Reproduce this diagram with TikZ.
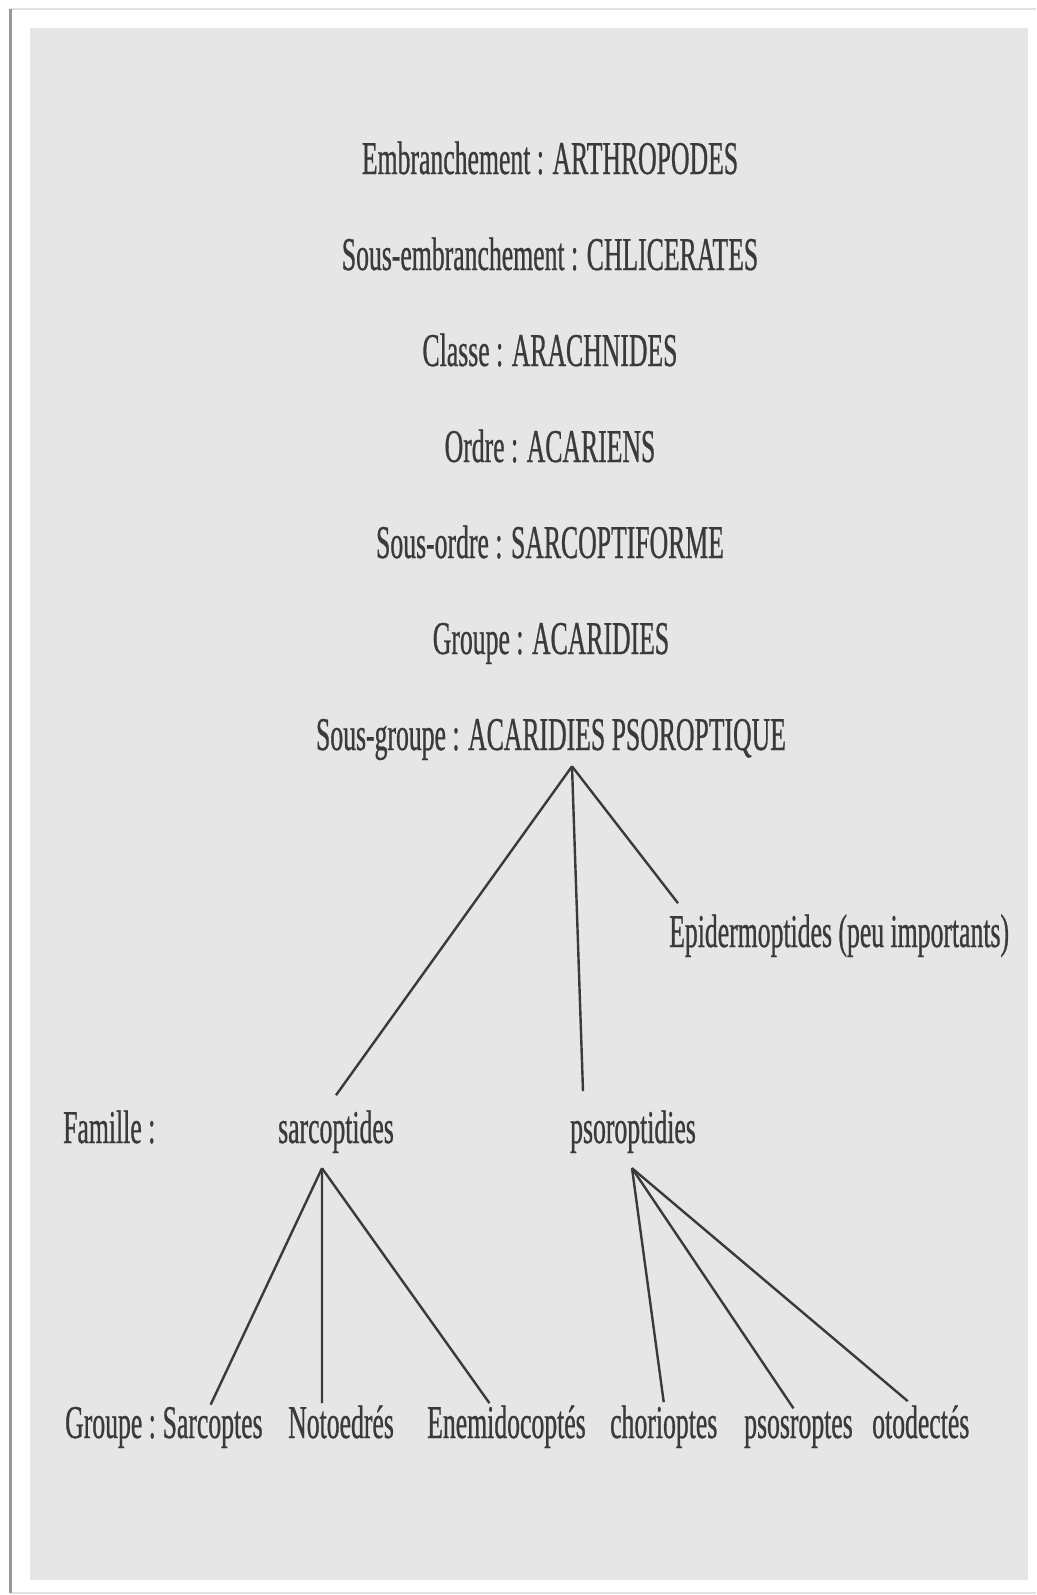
\documentclass[tikz,border=0pt]{standalone}
\usepackage{fontspec}
\setmainfont{Liberation Serif}[FakeStretch=0.547,FakeBold=0.6]
\definecolor{ink}{RGB}{58,58,58}
\definecolor{panel}{RGB}{230,230,230}
\begin{document}
\begin{tikzpicture}[x=1pt,y=-1pt,
  txt/.style={inner sep=0pt,anchor=base,text=ink,font=\fontsize{47}{56}\selectfont},
  branch/.style={draw=ink,line width=2.4pt}]
\useasboundingbox (0,0) rectangle (1036,1595);
% page and scan
\fill[white] (0,0) rectangle (1036,1595);
\draw[black!12,line width=1.5pt] (10,9) -- (1036,9);
\draw[black!12,line width=1.5pt] (10,1593) -- (1036,1593);
\draw[black!40,line width=3pt] (10,9) -- (10,1593);
\fill[panel] (30,28) rectangle (1028,1580);

% ranks
\node[txt] (emb) at (550,174) {Embranchement : ARTHROPODES};
\node[txt] (semb) at (550,270) {Sous-embranchement : CHLICERATES};
\node[txt] (cls) at (550,366) {Classe : ARACHNIDES};
\node[txt] (ord) at (550,462) {Ordre : ACARIENS};
\node[txt] (sord) at (550,558) {Sous-ordre : SARCOPTIFORME};
\node[txt] (grpe) at (551,654) {Groupe : ACARIDIES};
\node[txt] (sg) at (551,750) {Sous-groupe : ACARIDIES PSOROPTIQUE};

% families
\node[txt,anchor=base west] (epid) at (669,947) {Epidermoptides (peu importants)};
\node[txt,anchor=base west] (fam) at (63,1143) {Famille :};
\node[txt] (sarco) at (336,1143) {sarcoptides};
\node[txt] (psoro) at (633,1143) {psoroptidies};

% groups
\node[txt,anchor=base west] (grp) at (65,1438) {Groupe :};
\node[txt,anchor=base west] (sarcoptes) at ([xshift=6.4pt]grp.base east) {Sarcoptes};
\node[txt,anchor=base west] (noto) at (288,1438) {Notoedrés};
\node[txt,anchor=base west] (enemi) at (427,1438) {Enemidocoptés};
\node[txt,anchor=base west] (chorio) at (610,1438) {chorioptes};
\node[txt,anchor=base west] (psosr) at (744,1438) {psosroptes};
\node[txt,anchor=base west] (otod) at (872,1438) {otodectés};

% branches
\coordinate (sgtip) at ([xshift=21pt,yshift=-6pt]sg.south);
\draw[branch] (sgtip) -- ([yshift=15pt]sarco.north);
\draw[branch] (sgtip) -- ([xshift=-50pt,yshift=19pt]psoro.north);
\draw[branch] (sgtip) -- ([xshift=9pt,yshift=11pt]epid.north west);

\coordinate (sarcotip) at ([xshift=-14pt,yshift=-15pt]sarco.south);
\draw[branch] (sarcotip) -- ([xshift=-2pt,yshift=2pt]sarcoptes.north);
\draw[branch] (sarcotip) -- ([xshift=-19pt,yshift=2pt]noto.north);
\draw[branch] (sarcotip) -- ([xshift=-17pt,yshift=2pt]enemi.north);

\coordinate (psorotip) at ([xshift=-1pt,yshift=-15pt]psoro.south);
\draw[branch] (psorotip) -- ([yshift=3pt]chorio.north);
\draw[branch] (psorotip) -- ([xshift=-5pt,yshift=3pt]psosr.north);
\draw[branch] (psorotip) -- ([xshift=-13pt,yshift=4pt]otod.north);
\end{tikzpicture}
\end{document}
